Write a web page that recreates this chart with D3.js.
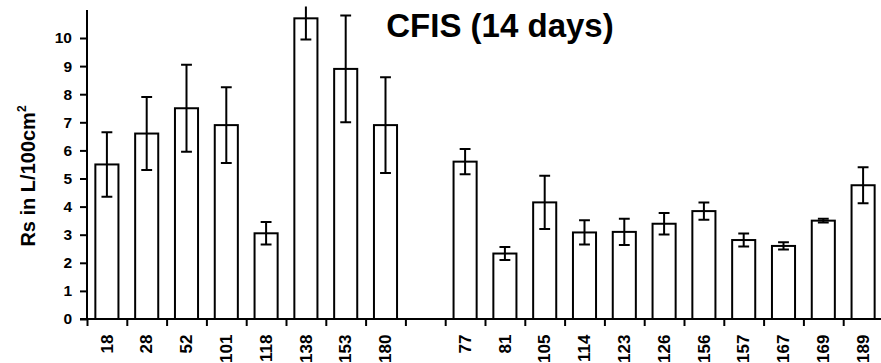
<!DOCTYPE html>
<html>
<head>
<meta charset="utf-8">
<script src="https://cdn.jsdelivr.net/npm/d3@7"></script>
<style>
  html, body { margin: 0; padding: 0; background: #fff; }
  svg { display: block; font-family: "Liberation Sans", Arial, sans-serif; }
</style>
</head>
<body>
<svg id="chart" width="881" height="363"></svg>
<script>
// ---- data ----
const categories = ["18", "28", "52", "101", "118", "138", "153", "180", "", "77", "81", "105", "114", "123", "126", "156", "157", "167", "169", "189"];
const values =     [5.5, 6.6, 7.5, 6.9, 3.05, 10.7, 8.9, 6.9, null, 5.6, 2.33, 4.15, 3.08, 3.1, 3.39, 3.84, 2.81, 2.6, 3.5, 4.76];
const errors =     [1.15, 1.3, 1.55, 1.35, 0.4, 0.75, 1.9, 1.7, null, 0.45, 0.23, 0.95, 0.43, 0.47, 0.38, 0.31, 0.23, 0.13, 0.07, 0.64];
const yTicks = [0, 1, 2, 3, 4, 5, 6, 7, 8, 9, 10];
const titleText = "CFIS (14 days)";

// ---- layout ----
const svg = d3.select("#chart");
const left = 87, right = 883, baseY = 319;
const keys = categories.map((c, i) => i);
const data = keys.map(i => ({ key: i, label: categories[i], value: values[i], err: errors[i] }));

const x = d3.scaleBand().domain(keys).range([left, right]).paddingInner(0.42).paddingOuter(0.21);
const y = d3.scaleLinear().domain([0, 11]).range([baseY, baseY - 11 * 28.1]);
const slot = d3.scaleLinear().domain([0, categories.length]).range([left, right]);

svg.append("defs").append("clipPath").attr("id", "plotclip")
  .append("rect").attr("x", left).attr("y", y(11.12)).attr("width", right - left).attr("height", baseY - y(11.12) + 2);

// bars
const plot = svg.append("g").attr("clip-path", "url(#plotclip)");
const valid = data.filter(d => d.value != null);
plot.selectAll("rect.bar").data(valid).join("rect")
  .attr("class", "bar")
  .attr("x", d => x(d.key))
  .attr("y", d => y(d.value))
  .attr("width", x.bandwidth())
  .attr("height", d => y(0) - y(d.value))
  .attr("fill", "#fff").attr("stroke", "#000").attr("stroke-width", 2);

// error bars
const capW = x.bandwidth() * 0.47;
const eb = plot.selectAll("g.err").data(valid).join("g").attr("class", "err")
  .attr("stroke", "#000").attr("stroke-width", 2);
eb.append("line")
  .attr("x1", d => x(d.key) + x.bandwidth() / 2).attr("x2", d => x(d.key) + x.bandwidth() / 2)
  .attr("y1", d => y(d.value + d.err)).attr("y2", d => y(d.value - d.err));
eb.append("line")
  .attr("x1", d => x(d.key) + x.bandwidth() / 2 - capW / 2).attr("x2", d => x(d.key) + x.bandwidth() / 2 + capW / 2)
  .attr("y1", d => y(d.value + d.err)).attr("y2", d => y(d.value + d.err));
eb.append("line")
  .attr("x1", d => x(d.key) + x.bandwidth() / 2 - capW / 2).attr("x2", d => x(d.key) + x.bandwidth() / 2 + capW / 2)
  .attr("y1", d => y(d.value - d.err)).attr("y2", d => y(d.value - d.err));

// y axis
const yAxis = svg.append("g").attr("transform", `translate(${left},0)`)
  .call(d3.axisLeft(y).tickValues(yTicks).tickSize(7).tickPadding(8).tickFormat(d3.format("d")));
yAxis.select(".domain").attr("d", `M0,${y(11)}V${baseY}`).attr("stroke", "#000").attr("stroke-width", 2);
yAxis.selectAll(".tick line").attr("stroke", "#000").attr("stroke-width", 2);
yAxis.selectAll(".tick text").attr("font-size", 15.5).attr("font-weight", "bold").attr("fill", "#000")
  .attr("font-family", "Liberation Sans, Arial, sans-serif");

// x axis boundary ticks
const xTickAxis = svg.append("g").attr("transform", `translate(0,${baseY})`)
  .call(d3.axisBottom(slot).tickValues(d3.range(0, categories.length)).tickSize(7).tickFormat(""));
xTickAxis.select(".domain").attr("d", `M${left - 7},0H${right}`).attr("stroke", "#000").attr("stroke-width", 2);
xTickAxis.selectAll(".tick line").attr("stroke", "#000").attr("stroke-width", 2);

// x labels
const xLab = svg.append("g").attr("transform", `translate(0,${baseY})`)
  .call(d3.axisBottom(x).tickSize(0).tickFormat(i => categories[i]));
xLab.select(".domain").remove();
xLab.selectAll(".tick text")
  .attr("transform", "rotate(-90)")
  .attr("text-anchor", "end")
  .attr("x", -15.5).attr("y", 0).attr("dy", "0.34em")
  .attr("font-size", 17).attr("font-weight", "bold").attr("fill", "#000")
  .attr("font-family", "Liberation Sans, Arial, sans-serif");

// y label
const yl = svg.append("text")
  .attr("transform", "rotate(-90)")
  .attr("x", -176).attr("y", 35)
  .attr("text-anchor", "middle")
  .attr("font-size", 20).attr("font-weight", "bold").attr("fill", "#000");
yl.append("tspan").text("Rs in L/100cm");
yl.append("tspan").attr("font-size", 12).attr("dy", -9).text("2");

// title
svg.append("text").attr("x", 500).attr("y", 37).attr("text-anchor", "middle")
  .attr("font-size", 33).attr("font-weight", "bold").attr("fill", "#000").text(titleText);
</script>
</body>
</html>
